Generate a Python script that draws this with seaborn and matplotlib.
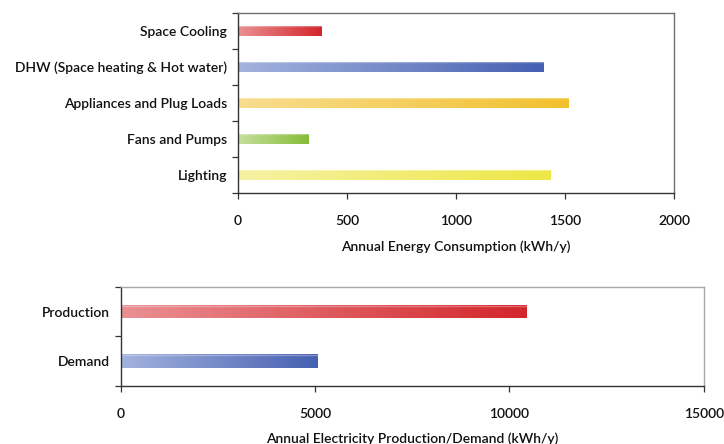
import numpy as np
import matplotlib
matplotlib.use("Agg")
import matplotlib.pyplot as plt
import seaborn as sns
from matplotlib.colors import LinearSegmentedColormap

# Annual end-use energy consumption (kWh/y)
end_uses = ["Space Cooling", "DHW (Space heating & Hot water)",
            "Appliances and Plug Loads", "Fans and Pumps", "Lighting"]
consumption = [385, 1402, 1518, 324, 1433]
end_use_light = ["#ea9093", "#a3b3de", "#f8dd90", "#c6e09c", "#f6f2a4"]
end_use_dark = ["#d3262b", "#4660b2", "#f2c12e", "#86bb38", "#eee746"]

# Annual electricity balance (kWh/y)
balance_labels = ["Production", "Demand"]
balance_values = [10450, 5070]
balance_light = ["#ea9093", "#a3b3de"]
balance_dark = ["#d3262b", "#4660b2"]

sns.set_theme(style="white")
plt.rcParams["font.family"] = ["Lato", "DejaVu Sans"]
plt.rcParams["font.weight"] = "semibold"
plt.rcParams["axes.labelweight"] = "semibold"
plt.rcParams["text.color"] = "#111111"
plt.rcParams["axes.labelcolor"] = "#111111"
plt.rcParams["xtick.color"] = "#111111"
plt.rcParams["ytick.color"] = "#111111"

fig = plt.figure(figsize=(7.24, 4.44), dpi=100)
ax1 = fig.add_axes([238 / 724, 1 - 192.7 / 444, 436 / 724, 180 / 444])
ax2 = fig.add_axes([121 / 724, 1 - 386 / 444, 582.7 / 724, 99.3 / 444])


def gradient_fill(ax, lights, darks):
    """Paint each bar with a left-to-right light-to-dark gradient."""
    xlim, ylim = ax.get_xlim(), ax.get_ylim()
    ramp = np.linspace(0, 1, 256).reshape(1, -1)
    bars = sorted(ax.patches, key=lambda p: p.get_y())
    for bar, c0, c1 in zip(bars, lights, darks):
        x0, y0 = bar.get_x(), bar.get_y()
        w, h = bar.get_width(), bar.get_height()
        cmap = LinearSegmentedColormap.from_list("bar", [c0, c1])
        im = ax.imshow(ramp, cmap=cmap, extent=[x0, x0 + w, y0, y0 + h],
                       aspect="auto", interpolation="bilinear",
                       zorder=bar.get_zorder() + 0.1)
        im.set_clip_path(bar)
        # soft highlight along the upper edge of the bar
        ax.plot([x0, x0 + w], [y0 + 0.02, y0 + 0.02], color="white",
                alpha=0.3, lw=1.0, zorder=bar.get_zorder() + 0.2,
                solid_capstyle="butt")
    ax.set_xlim(xlim)
    ax.set_ylim(ylim)


def style_axes(ax, n, xmax, step, frame_color):
    ax.set_xlim(0, xmax)
    ax.set_ylim(n - 0.5, -0.5)
    ax.set_xticks(np.arange(0, xmax + 1, step))
    ax.set_yticks(np.arange(-0.5, n, 1.0), minor=True)
    ax.tick_params(axis="y", which="major", length=0, pad=8, labelsize=10)
    ax.tick_params(axis="y", which="minor", left=True, length=4,
                   width=0.9, color="#333333", direction="out")
    ax.tick_params(axis="x", which="major", bottom=True, length=4,
                   width=0.9, color="#333333", direction="out", pad=12,
                   labelsize=10)
    for side in ("left", "bottom"):
        ax.spines[side].set_color("#333333")
        ax.spines[side].set_linewidth(1.0)
    for side in ("top", "right"):
        ax.spines[side].set_color(frame_color)
        ax.spines[side].set_linewidth(1.0)
    ax.set_ylabel("")


sns.barplot(x=consumption, y=end_uses, hue=end_uses, palette=end_use_dark,
            orient="h", width=0.28, saturation=1, legend=False, ax=ax1)
style_axes(ax1, len(end_uses), 2000, 500, "#6e6e6e")
gradient_fill(ax1, end_use_light, end_use_dark)
ax1.set_xlabel("Annual Energy Consumption (kWh/y)", fontsize=10, labelpad=10)

sns.barplot(x=balance_values, y=balance_labels, hue=balance_labels,
            palette=balance_dark, orient="h", width=0.27, saturation=1,
            legend=False, ax=ax2)
style_axes(ax2, len(balance_labels), 15000, 5000, "#a8a8a8")
gradient_fill(ax2, balance_light, balance_dark)
ax2.set_xlabel("Annual Electricity Production/Demand (kWh/y)", fontsize=10,
               labelpad=9)

fig.savefig("out.png", dpi=100)
